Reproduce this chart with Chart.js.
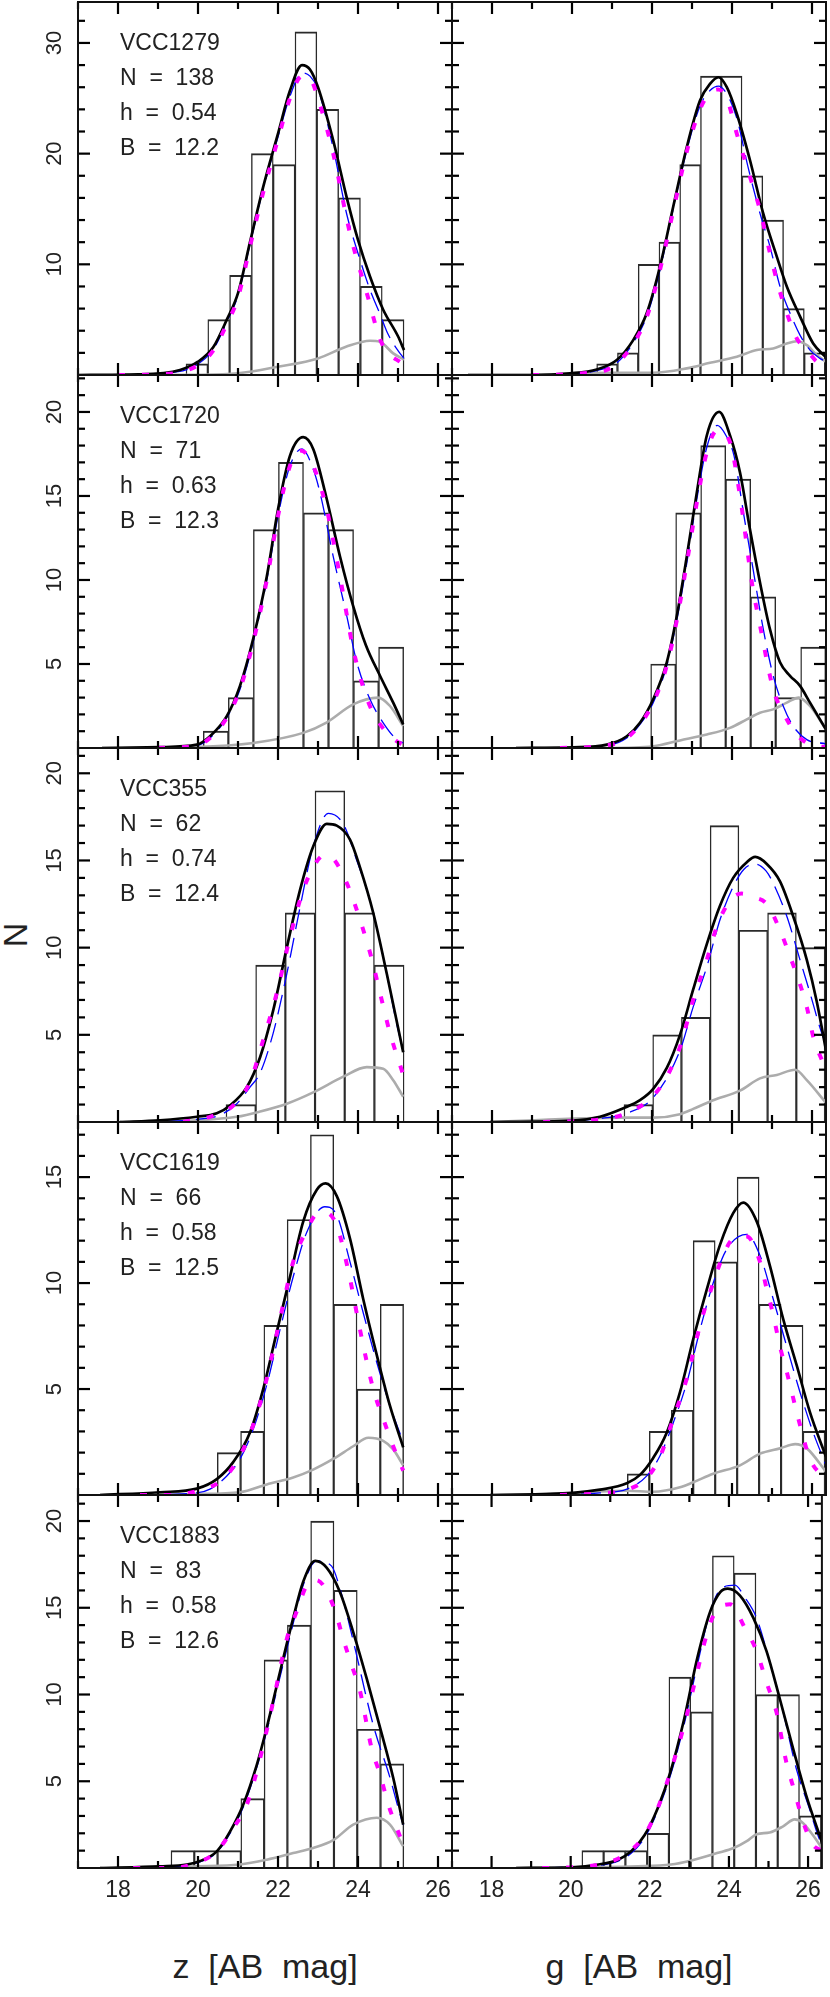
<!DOCTYPE html>
<html>
<head>
<meta charset="utf-8">
<title>GC luminosity functions</title>
<script src="https://cdn.jsdelivr.net/npm/chart.js@4.4.1/dist/chart.umd.min.js"></script>
<style>
  body { margin: 0; background: #fff; }
  #page { position: relative; width: 830px; height: 1997px; overflow: hidden;
          font-family: "Liberation Sans", Arial, sans-serif; color: #222; }
  #page canvas { position: absolute; }
  .title { position: absolute; font-size: 34px; white-space: pre; transform: translate(-50%, -50%); }
  #ytitle { left: 15px; top: 935px; transform: translate(-50%, -50%) rotate(-90deg); }
  #xtitleL { left: 265px; top: 1966px; }
  #xtitleR { left: 639px; top: 1966px; }
</style>
</head>
<body>
<div id="page">
  <div class="title" id="ytitle">N</div>
  <div class="title" id="xtitleL">z  [AB  mag]</div>
  <div class="title" id="xtitleR">g  [AB  mag]</div>
</div>
<script>
// --- panel labels ---
const galaxies = ['VCC1279', 'VCC1720', 'VCC355', 'VCC1619', 'VCC1883'];
const nGC = [138, 71, 62, 66, 83];
const hBin = ['0.54', '0.63', '0.74', '0.58', '0.58'];
const bVal = ['12.2', '12.3', '12.4', '12.5', '12.6'];

// --- axes ---
const xMajor = [18, 20, 22, 24, 26];
const xMinor = [17, 19, 21, 23, 25];
const xMin = 17, xMax = 26.35;
const yMax = [33.7, 22.2, 21.45, 17.6, 21.5];
const yMajor = [[10, 20, 30], [5, 10, 15, 20], [5, 10, 15, 20], [5, 10, 15], [5, 10, 15, 20]];
const yStep = [2, 1, 1, 1, 1];

// --- VCC1279 ---
const vcc1279_z_bins = [19.973, 20.518, 21.063, 21.608, 22.153, 22.698, 23.243, 23.788, 24.333, 24.878];
const vcc1279_z_counts = [1, 5, 9, 20, 19, 31, 24, 16, 8, 5];
const vcc1279_z_fit = [[17.0,0],[18.5,0.05],[19.55,0.45],[20.0,1.2],[20.38,2.5],[20.72,5.0],[21.0,7.4],[21.3,12.0],[21.63,17.0],[22.0,21.8],[22.3,25.7],[22.6,28.0],[22.8,27.6],[23.0,26.0],[23.38,21.2],[23.72,16.0],[24.0,12.2],[24.3,8.9],[24.63,5.9],[25.0,3.5],[25.15,2.25]];
const vcc1279_z_gauss = [[17.8,0],[19.5,0.3],[20.0,1.0],[20.38,2.3],[20.72,4.8],[21.0,7.2],[21.3,11.8],[21.63,16.8],[22.0,21.5],[22.3,25.2],[22.6,27.3],[22.8,27.0],[23.0,25.8],[23.38,20.5],[23.72,14.5],[24.0,11.0],[24.3,7.7],[24.55,5.5],[24.75,3.7],[25.0,2.2],[25.15,1.5]];
const vcc1279_z_t5 = [[18.0,0],[19.0,0.05],[19.6,0.3],[20.0,0.9],[20.38,2.2],[20.72,4.6],[21.0,7.0],[21.3,11.6],[21.63,16.5],[22.0,21.3],[22.3,25.0],[22.6,27.0],[22.8,26.8],[23.0,25.0],[23.38,20.0],[23.8,12.8],[24.22,7.4],[24.59,2.9],[25.15,0.9]];
const vcc1279_z_bkg = [[18.0,0],[20.0,0.02],[21.0,0.15],[22.0,0.75],[23.0,1.5],[23.7,2.55],[24.3,3.1],[24.55,3.0],[24.88,1.95],[25.15,1.4]];

const vcc1279_g_bins = [20.877, 21.396, 21.915, 22.434, 22.953, 23.472, 23.991, 24.510, 25.029, 25.548, 26.067];
const vcc1279_g_counts = [1, 2, 10, 12, 19, 27, 27, 18, 14, 6, 2];
const vcc1279_g_fit = [[17.4,0],[19.0,0],[19.95,0.15],[20.62,0.5],[21.12,1.35],[21.53,3.15],[21.87,5.6],[22.2,9.8],[22.53,15.2],[22.87,20.6],[23.2,24.8],[23.45,26.3],[23.66,26.9],[23.87,26.0],[24.12,23.6],[24.45,19.4],[24.78,14.6],[25.12,10.7],[25.37,8.0],[25.7,5.3],[26.03,2.85],[26.35,1.6]];
const vcc1279_g_gauss = [[19.0,0],[20.0,0.1],[20.62,0.4],[21.12,1.1],[21.53,2.9],[21.87,5.3],[22.2,9.5],[22.53,15.0],[22.87,20.3],[23.2,24.3],[23.45,25.7],[23.66,26.1],[23.87,25.4],[24.12,23.2],[24.4,18.8],[24.7,14.6],[24.95,11.6],[25.2,8.0],[25.45,5.6],[25.7,3.6],[25.95,2.25],[26.2,1.5],[26.35,1.2]];
const vcc1279_g_t5 = [[19.0,0],[19.8,0.05],[20.4,0.2],[20.87,0.45],[21.2,1.3],[21.53,2.8],[21.87,5.25],[22.2,9.5],[22.53,14.8],[22.87,20.2],[23.2,24.0],[23.45,25.5],[23.66,25.8],[23.87,25.0],[24.12,21.8],[24.45,17.9],[24.7,14.9],[24.95,11.0],[25.16,8.0],[25.37,5.6],[25.62,3.3],[25.87,2.25],[26.12,1.2],[26.3,0.9]];
const vcc1279_g_bkg = [[17.4,0],[19.0,0],[20.87,0.2],[22.03,0.2],[22.87,0.6],[23.45,1.1],[24.12,1.65],[24.62,2.25],[25.03,2.4],[25.37,2.85],[25.62,3.05],[25.87,2.7],[26.12,1.8],[26.35,1.2]];

// --- VCC1720 ---
const vcc1720_z_bins = [20.446, 21.072, 21.698, 22.324, 22.950, 23.576, 24.202, 24.828];
const vcc1720_z_counts = [1, 3, 13, 17, 14, 13, 4, 6];
const vcc1720_z_fit = [[17.6,0],[19.05,0.05],[19.97,0.2],[20.3,0.7],[20.72,1.9],[21.05,3.7],[21.38,6.5],[21.72,10.2],[22.0,14.2],[22.3,17.4],[22.63,18.5],[22.88,17.8],[23.2,15.0],[23.55,11.4],[23.88,8.45],[24.2,6.1],[24.55,4.3],[24.88,2.7],[25.13,1.4]];
const vcc1720_z_gauss = [[18.5,0],[19.97,0.15],[20.3,0.6],[20.72,1.8],[21.05,3.5],[21.38,6.3],[21.72,10.0],[22.0,13.8],[22.3,16.8],[22.6,17.8],[22.85,16.8],[23.05,15.2],[23.38,11.4],[23.72,7.85],[23.97,5.1],[24.3,2.9],[24.63,1.5],[24.97,0.5],[25.13,0.3]];
const vcc1720_z_t5 = [[19.0,0],[19.97,0.15],[20.3,0.6],[20.72,1.8],[21.05,3.5],[21.38,6.3],[21.72,10.0],[22.0,13.8],[22.3,16.8],[22.55,17.7],[22.8,17.2],[23.2,14.4],[23.55,10.2],[23.88,5.9],[24.2,3.1],[24.47,1.7],[24.97,0.4],[25.13,0.2]];
const vcc1720_z_bkg = [[17.6,0],[19.97,0.06],[21.38,0.3],[22.63,0.9],[23.2,1.5],[23.88,2.6],[24.5,3.0],[24.8,2.5],[25.13,1.3]];

const vcc1720_g_bins = [22.280, 22.905, 23.530, 24.155, 24.780, 25.405, 26.030];
const vcc1720_g_counts = [5, 14, 18, 16, 9, 3, 6];
const vcc1720_g_fit = [[18.6,0],[20.03,0.04],[20.87,0.2],[21.37,0.7],[21.7,1.5],[22.03,2.9],[22.37,5.1],[22.62,7.85],[22.87,11.4],[23.12,15.2],[23.37,18.6],[23.68,20.0],[23.95,18.6],[24.2,16.4],[24.45,13.0],[24.7,9.85],[24.95,7.06],[25.2,5.1],[25.45,4.3],[25.7,3.7],[25.95,2.7],[26.35,1.1]];
const vcc1720_g_gauss = [[19.5,0],[20.87,0.15],[21.37,0.6],[21.7,1.4],[22.03,2.7],[22.37,4.9],[22.62,7.6],[22.87,11.0],[23.12,14.8],[23.37,17.9],[23.63,19.2],[23.85,18.6],[24.05,17.4],[24.3,13.8],[24.53,10.6],[24.78,7.1],[25.03,4.3],[25.28,2.5],[25.53,1.3],[25.87,0.5],[26.35,0.25]];
const vcc1720_g_t5 = [[19.7,0],[20.87,0.15],[21.37,0.6],[21.7,1.4],[22.03,2.7],[22.37,4.9],[22.62,7.6],[22.87,11.0],[23.12,14.6],[23.37,17.6],[23.63,18.9],[23.95,18.2],[24.2,15.0],[24.5,9.8],[24.7,7.3],[25.03,3.5],[25.28,2.1],[25.62,0.8],[25.95,0.2],[26.35,0.05]];
const vcc1720_g_bkg = [[18.6,0],[20.9,0],[22.03,0.1],[22.7,0.45],[23.37,0.8],[23.95,1.2],[24.37,1.7],[24.7,2.1],[25.03,2.3],[25.37,2.7],[25.67,3.0],[25.95,2.5],[26.35,1.1]];

// --- VCC355 ---
const vcc355_z_bins = [21.071, 21.813, 22.555, 23.297, 24.039, 24.781];
const vcc355_z_counts = [1, 9, 12, 19, 12, 9];
const vcc355_z_fit = [[18.05,0],[19.05,0.1],[19.97,0.3],[20.47,0.5],[20.8,0.95],[21.22,2.0],[21.55,3.7],[21.88,6.4],[22.22,10.0],[22.55,13.3],[22.88,15.8],[23.22,17.1],[23.47,17.0],[23.8,16.2],[24.05,14.6],[24.38,12.0],[24.72,8.5],[25.13,4.0]];
const vcc355_z_gauss = [[18.5,0],[19.97,0.15],[20.55,0.4],[20.97,1.05],[21.3,2.0],[21.55,2.8],[21.88,5.1],[22.22,8.5],[22.55,12.3],[22.88,15.8],[23.26,17.7],[23.63,17.1],[23.97,15.0],[24.3,12.7],[24.63,9.5],[24.97,5.6],[25.13,4.1]];
const vcc355_z_t5 = [[19.63,0],[20.3,0.3],[20.88,0.95],[21.3,2.3],[21.63,4.7],[21.97,7.4],[22.3,10.6],[22.63,13.3],[22.93,14.8],[23.15,15.3],[23.38,15.1],[23.72,13.7],[24.05,11.6],[24.35,9.3],[24.55,7.4],[24.8,5.1],[25.13,2.7]];
const vcc355_z_bkg = [[18.05,0],[19.97,0.1],[20.97,0.3],[21.55,0.6],[22.22,1.05],[22.88,1.7],[23.63,2.6],[24.22,3.15],[24.63,3.05],[24.88,2.4],[25.13,1.45]];

const vcc355_g_bins = [21.659, 22.377, 23.095, 23.813, 24.531, 25.249, 25.967];
const vcc355_g_counts = [1, 5, 6, 17, 11, 12, 10];
const vcc355_g_fit = [[17.95,0],[20.03,0.08],[20.7,0.3],[21.3,0.8],[21.7,1.25],[22.03,1.9],[22.37,3.1],[22.7,5.0],[23.03,7.6],[23.37,10.2],[23.7,12.4],[24.03,14.0],[24.37,14.9],[24.58,15.2],[24.87,14.8],[25.2,13.8],[25.53,11.8],[25.87,9.3],[26.12,6.9],[26.35,4.1]];
const vcc355_g_gauss = [[19.3,0],[20.7,0.2],[21.37,0.5],[22.03,1.4],[22.7,4.1],[23.03,6.6],[23.37,8.9],[23.7,11.6],[24.03,13.5],[24.3,14.5],[24.58,14.8],[24.85,14.4],[25.03,13.7],[25.37,11.8],[25.7,9.3],[25.95,7.4],[26.2,5.4],[26.35,4.4]];
const vcc355_g_t5 = [[19.28,0],[20.7,0.15],[21.37,0.5],[22.03,1.5],[22.37,2.6],[22.7,4.3],[23.03,7.0],[23.37,9.3],[23.62,11.2],[23.95,12.7],[24.24,13.1],[24.53,12.9],[24.87,12.5],[25.2,11.0],[25.45,9.5],[25.7,7.9],[25.87,6.6],[26.03,4.9],[26.28,3.35]];
const vcc355_g_bkg = [[17.95,0],[21.28,0.25],[22.03,0.25],[22.7,0.45],[23.03,0.75],[23.53,1.25],[24.2,1.8],[24.7,2.5],[25.12,2.7],[25.58,3.0],[25.87,2.4],[26.35,1.1]];

// --- VCC1619 ---
const vcc1619_z_bins = [20.774, 21.356, 21.938, 22.520, 23.102, 23.684, 24.266, 24.848];
const vcc1619_z_counts = [2, 3, 8, 13, 17, 9, 5, 9];
const vcc1619_z_fit = [[17.55,0],[19.05,0.13],[19.97,0.3],[20.47,0.75],[20.88,1.55],[21.3,2.95],[21.63,5.0],[21.97,7.7],[22.3,10.3],[22.63,12.9],[22.97,14.4],[23.19,14.7],[23.47,14.1],[23.8,12.1],[24.13,9.25],[24.47,6.6],[24.8,4.2],[25.13,2.25]];
const vcc1619_z_gauss = [[18.5,0],[19.97,0.1],[20.3,0.28],[20.72,0.9],[21.05,1.7],[21.38,3.1],[21.72,5.2],[22.05,7.8],[22.38,10.3],[22.72,12.4],[23.17,13.6],[23.47,13.2],[23.8,11.0],[24.13,8.6],[24.47,6.25],[24.8,4.2],[25.13,2.5]];
const vcc1619_z_t5 = [[18.55,0],[19.3,0],[20.0,0.2],[20.63,0.75],[21.05,1.85],[21.38,3.3],[21.72,5.5],[22.05,8.3],[22.38,11.0],[22.72,12.5],[22.97,13.25],[23.22,13.3],[23.47,12.7],[23.8,10.2],[24.05,7.8],[24.38,5.0],[24.63,3.6],[24.88,2.3],[25.13,1.15]];
const vcc1619_z_bkg = [[17.55,0],[19.97,0.05],[21.05,0.13],[21.72,0.5],[22.38,0.83],[22.88,1.2],[23.38,1.7],[23.88,2.3],[24.26,2.7],[24.63,2.55],[24.88,2.15],[25.13,1.4]];

const vcc1619_g_bins = [21.658, 22.207, 22.756, 23.305, 23.854, 24.403, 24.952, 25.501, 26.050];
const vcc1619_g_counts = [1, 3, 4, 12, 11, 15, 9, 8, 3];
const vcc1619_g_fit = [[17.95,0],[20.03,0.1],[20.7,0.25],[21.37,0.55],[21.7,0.95],[22.03,1.75],[22.37,2.95],[22.7,4.85],[23.03,7.35],[23.37,9.7],[23.7,11.8],[24.03,13.3],[24.28,13.8],[24.62,12.9],[24.95,10.8],[25.28,8.3],[25.62,6.1],[25.95,3.9],[26.35,1.8]];
const vcc1619_g_gauss = [[19.5,0],[20.7,0.1],[21.37,0.28],[21.87,0.9],[22.2,1.85],[22.53,3.4],[22.87,5.3],[23.2,7.8],[23.53,10.0],[23.87,11.6],[24.37,12.3],[24.7,11.3],[25.03,9.25],[25.37,7.0],[25.7,4.85],[26.03,2.95],[26.35,1.4]];
const vcc1619_g_t5 = [[19.7,0],[20.87,0.1],[21.37,0.25],[21.87,0.8],[22.2,1.8],[22.53,3.6],[22.87,5.5],[23.2,8.0],[23.45,9.55],[23.78,11.3],[24.03,12.1],[24.37,12.2],[24.7,11.0],[24.87,9.7],[25.03,8.5],[25.2,7.0],[25.37,5.8],[25.7,3.3],[25.95,1.7],[26.28,0.83]];
const vcc1619_g_bkg = [[19.03,0],[21.37,0.2],[22.03,0.15],[22.7,0.36],[23.03,0.6],[23.53,1.0],[24.2,1.4],[24.7,1.95],[25.2,2.2],[25.58,2.4],[25.87,2.2],[26.35,1.1]];

// --- VCC1883 ---
const vcc1883_z_bins = [19.616, 20.198, 20.780, 21.362, 21.944, 22.526, 23.108, 23.690, 24.272, 24.854];
const vcc1883_z_counts = [1, 1, 1, 4, 12, 14, 20, 16, 8, 6];
const vcc1883_z_fit = [[17.55,0],[19.05,0.1],[19.72,0.2],[20.05,0.4],[20.47,0.96],[20.8,2.1],[21.13,3.65],[21.47,5.95],[21.72,8.1],[22.05,11.3],[22.38,14.4],[22.63,16.5],[22.93,17.7],[23.22,17.3],[23.55,15.9],[23.88,13.6],[24.22,10.9],[24.55,8.1],[24.88,5.2],[25.13,2.5]];
const vcc1883_z_gauss = [[18.5,0],[19.72,0.15],[20.05,0.35],[20.47,0.9],[20.8,2.0],[21.13,3.5],[21.47,5.8],[21.72,7.9],[22.05,11.0],[22.38,14.1],[22.63,16.3],[22.97,17.7],[23.34,17.4],[23.55,16.1],[23.88,13.1],[24.38,8.25],[24.8,5.2],[25.05,3.1],[25.13,2.5]];
const vcc1883_z_t5 = [[18.38,0],[19.3,0],[19.88,0.23],[20.47,0.96],[20.88,2.3],[21.22,3.65],[21.55,6.3],[21.88,9.6],[22.22,13.2],[22.47,14.8],[22.72,16.3],[22.95,16.6],[23.13,16.3],[23.43,14.8],[23.63,13.2],[23.84,11.7],[24.05,10.2],[24.34,6.9],[24.55,5.4],[24.76,3.65],[24.97,2.3],[25.13,1.35]];
const vcc1883_z_bkg = [[17.55,0],[19.97,0.1],[21.05,0.2],[21.72,0.48],[22.38,0.86],[22.88,1.15],[23.38,1.6],[23.88,2.5],[24.47,2.9],[24.8,2.5],[25.13,1.25]];

const vcc1883_g_bins = [20.558, 21.108, 21.658, 22.208, 22.758, 23.308, 23.858, 24.408, 24.958, 25.508, 26.058];
const vcc1883_g_counts = [1, 1, 1, 2, 11, 9, 18, 17, 10, 10, 3];
const vcc1883_g_fit = [[18.62,0],[20.03,0.04],[20.7,0.2],[21.2,0.48],[21.53,0.96],[21.87,1.9],[22.2,3.45],[22.53,5.6],[22.87,8.6],[23.2,12.1],[23.53,14.8],[23.78,15.9],[23.97,16.1],[24.28,15.7],[24.62,14.4],[24.95,12.5],[25.28,9.8],[25.62,6.9],[25.95,4.2],[26.35,1.5]];
const vcc1883_g_gauss = [[19.3,0],[20.7,0.15],[21.2,0.4],[21.53,0.85],[21.87,1.75],[22.2,3.3],[22.53,5.4],[22.87,8.3],[23.2,11.7],[23.53,14.8],[23.8,16.1],[24.15,16.3],[24.4,15.6],[24.7,14.4],[25.03,11.9],[25.37,9.0],[25.7,5.75],[26.03,3.45],[26.28,1.7],[26.35,1.4]];
const vcc1883_g_t5 = [[19.28,0],[20.03,0.04],[20.78,0.23],[21.37,0.77],[21.87,1.9],[22.2,3.45],[22.53,5.6],[22.87,8.25],[23.2,11.3],[23.37,12.9],[23.62,14.6],[24.03,15.2],[24.41,13.8],[24.7,12.5],[24.95,10.7],[25.2,9.0],[25.45,6.1],[25.66,4.4],[25.87,2.7],[26.12,1.35],[26.3,1.05]];
const vcc1883_g_bkg = [[18.62,0],[21.7,0.1],[22.53,0.2],[23.03,0.42],[23.7,0.86],[24.12,1.15],[24.45,1.55],[24.7,1.95],[25.03,2.05],[25.37,2.4],[25.66,2.8],[25.87,2.6],[26.12,1.9],[26.35,1.15]];

// table of panels, row by row: [z band, g band]
const panels = [
  [[vcc1279_z_bins, vcc1279_z_counts, vcc1279_z_fit, vcc1279_z_gauss, vcc1279_z_t5, vcc1279_z_bkg],
   [vcc1279_g_bins, vcc1279_g_counts, vcc1279_g_fit, vcc1279_g_gauss, vcc1279_g_t5, vcc1279_g_bkg]],
  [[vcc1720_z_bins, vcc1720_z_counts, vcc1720_z_fit, vcc1720_z_gauss, vcc1720_z_t5, vcc1720_z_bkg],
   [vcc1720_g_bins, vcc1720_g_counts, vcc1720_g_fit, vcc1720_g_gauss, vcc1720_g_t5, vcc1720_g_bkg]],
  [[vcc355_z_bins, vcc355_z_counts, vcc355_z_fit, vcc355_z_gauss, vcc355_z_t5, vcc355_z_bkg],
   [vcc355_g_bins, vcc355_g_counts, vcc355_g_fit, vcc355_g_gauss, vcc355_g_t5, vcc355_g_bkg]],
  [[vcc1619_z_bins, vcc1619_z_counts, vcc1619_z_fit, vcc1619_z_gauss, vcc1619_z_t5, vcc1619_z_bkg],
   [vcc1619_g_bins, vcc1619_g_counts, vcc1619_g_fit, vcc1619_g_gauss, vcc1619_g_t5, vcc1619_g_bkg]],
  [[vcc1883_z_bins, vcc1883_z_counts, vcc1883_z_fit, vcc1883_z_gauss, vcc1883_z_t5, vcc1883_z_bkg],
   [vcc1883_g_bins, vcc1883_g_counts, vcc1883_g_fit, vcc1883_g_gauss, vcc1883_g_t5, vcc1883_g_bkg]]
];

// page layout (pixels)
const rowTop = [2, 375, 748, 1122, 1495];
const rowBottom = [375, 748, 1122, 1495, 1868];
const FONT = '"Liberation Sans", Arial, sans-serif';
const INK = '#222';

Chart.defaults.font.family = FONT;
Chart.defaults.color = INK;

// box with inward ticks on all four sides, rotated y labels, sample text
const framePlugin = {
  id: 'frame',
  afterDraw(chart, args, opts) {
    const ctx = chart.ctx;
    const a = chart.chartArea;
    const x = chart.scales.x, y = chart.scales.y;
    const tw = 2.2;
    ctx.save();
    ctx.fillStyle = '#000';
    // x ticks: up from the bottom edge, down from the top edge
    xMajor.concat(xMinor).forEach(v => {
      const px = x.getPixelForValue(v);
      const len = xMajor.indexOf(v) >= 0 ? 12 : 7;
      ctx.fillRect(px - tw / 2, a.bottom - len, tw, len);
      ctx.fillRect(px - tw / 2, a.top, tw, len);
    });
    // y ticks on both sides
    const major = yMajor[opts.row];
    for (let v = yStep[opts.row]; v < yMax[opts.row]; v += yStep[opts.row]) {
      const py = y.getPixelForValue(v);
      const len = major.indexOf(v) >= 0 ? 12 : 7;
      ctx.fillRect(a.left, py - tw / 2, len, tw);
      ctx.fillRect(a.right - len, py - tw / 2, len, tw);
    }
    ctx.setLineDash([]);
    ctx.strokeStyle = '#111';
    ctx.lineWidth = 2;
    ctx.strokeRect(a.left, a.top, a.right - a.left, a.bottom - a.top);

    ctx.fillStyle = INK;
    if (opts.left) {
      // y tick labels read upwards, like the original plot
      ctx.font = '22px ' + FONT;
      ctx.textAlign = 'center';
      ctx.textBaseline = 'middle';
      y.ticks.forEach(t => {
        ctx.save();
        ctx.translate(a.left - 23, y.getPixelForValue(t.value));
        ctx.rotate(-Math.PI / 2);
        ctx.fillText(String(t.value), 0, 0);
        ctx.restore();
      });
      ctx.font = '23px ' + FONT;
      ctx.textAlign = 'left';
      ctx.textBaseline = 'alphabetic';
      opts.lines.forEach((s, i) => ctx.fillText(s, a.left + 42, a.top + 48 + i * 35));
    }
    ctx.restore();
  }
};

function makePanel(r, c) {
  const [bins, counts, fit, gauss, t5, bkg] = panels[r][c];
  const last = r === panels.length - 1;
  const left = c === 0;

  const canvas = document.createElement('canvas');
  const cw = left ? 462 : 388;
  const ch = (rowBottom[r] - rowTop[r]) + 10 + (last ? 44 : 10);
  canvas.width = cw;
  canvas.height = ch;
  canvas.style.left = (left ? 0 : 442) + 'px';
  canvas.style.top = (rowTop[r] - 10) + 'px';
  canvas.style.width = cw + 'px';
  canvas.style.height = ch + 'px';
  document.getElementById('page').appendChild(canvas);

  const lines = [galaxies[r], 'N  =  ' + nGC[r], 'h  =  ' + hBin[r], 'B  =  ' + bVal[r]];
  const curve = { type: 'line', pointRadius: 0, fill: false, cubicInterpolationMode: 'monotone' };
  const edge = 0.75;

  new Chart(canvas, {
    type: 'bar',
    data: {
      datasets: [
        Object.assign({ data: t5, borderColor: '#ff00ff', borderWidth: 4, borderDash: [7, 17] }, curve),
        Object.assign({ data: fit, borderColor: '#000', borderWidth: 2.7 }, curve),
        Object.assign({ data: gauss, borderColor: '#0000ff', borderWidth: 1.3, borderDash: [20, 9] }, curve),
        Object.assign({ data: bkg, borderColor: '#acacac', borderWidth: 2.6 }, curve),
        {
          type: 'bar',
          data: bins.map((b, i) => ({ x: b, y: counts[i] })),
          backgroundColor: 'rgba(0,0,0,0)',
          borderColor: '#2a2a2a',
          borderWidth: { top: 1.3, left: edge, right: edge, bottom: 0 },
          barPercentage: 1,
          categoryPercentage: 1
        }
      ]
    },
    options: {
      responsive: false,
      animation: false,
      events: [],
      layout: { padding: { left: left ? 0 : 10, right: left ? 10 : 4, top: 10, bottom: last ? 0 : 10 } },
      plugins: {
        legend: { display: false },
        tooltip: { enabled: false },
        frame: { lines: lines, row: r, left: left }
      },
      scales: {
        x: {
          type: 'linear', min: xMin, max: xMax, offset: false,
          display: last,
          grid: { display: false, drawTicks: false, offset: false },
          border: { display: false },
          ticks: { font: { size: 23 }, color: INK, padding: 9, maxRotation: 0, autoSkip: false },
          afterBuildTicks: s => { s.ticks = xMajor.map(v => ({ value: v })); },
          afterFit: s => { if (last) s.height = 44; }
        },
        y: {
          type: 'linear', min: 0, max: yMax[r],
          display: left,
          grid: { display: false, drawTicks: false },
          border: { display: false },
          ticks: { display: false },
          afterBuildTicks: s => { s.ticks = yMajor[r].map(v => ({ value: v })); },
          afterFit: s => { if (left) s.width = 78; }
        }
      }
    },
    plugins: [framePlugin]
  });
}

for (let r = 0; r < panels.length; r++) {
  makePanel(r, 0);
  makePanel(r, 1);
}
</script>
</body>
</html>
